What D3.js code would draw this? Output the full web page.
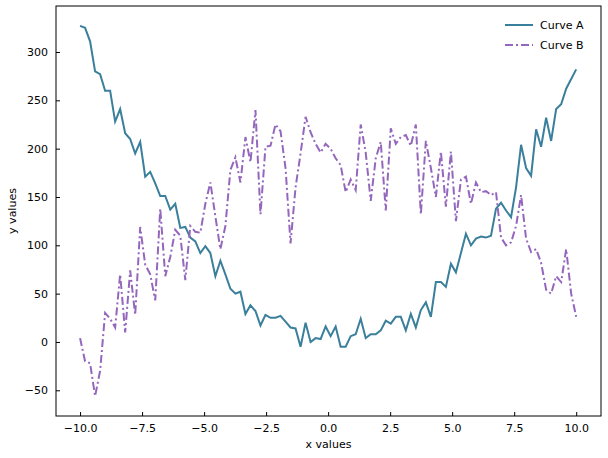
<!DOCTYPE html><html><head><meta charset="utf-8"><script src="https://cdn.jsdelivr.net/npm/d3@7"></script>
<style>body{margin:0;background:#fff}text{font-family:"DejaVu Sans",sans-serif}</style></head><body><svg id="c" width="608" height="458"></svg><script>
const curveA=[327,325,311,280,277,260,260,228,241,216,210,195,207,171,176,164,151,151,137,143,118,119,108,104,92,99,92,68,84,70,55,50,52,29,38,32,17,28,25,25,27,21,15,14,-5,20,0,4,3,16,6,16,-5,-5,6,8,24,4,8,8,12,22,19,26,26,12,29,15,33,41,26,62,62,57,81,72,92,112,100,107,109,108,110,138,144,136,129,160,204,180,172,220,202,232,208,241,246,262,272,282];
const curveB=[4,-20,-22,-56,-30,30,24,15,70,10,74,28,119,80,70,43,138,68,88,116,110,64,120,114,113,143,165,130,96,120,178,191,165,212,186,240,132,202,203,225,218,180,102,160,195,233,217,205,196,205,200,190,183,155,168,157,225,196,146,190,207,136,221,205,212,214,203,225,132,208,180,150,197,140,197,125,168,171,143,165,155,156,152,155,108,100,103,120,152,107,93,96,82,54,50,68,62,96,50,26];
const xTicks=[-10,-7.5,-5,-2.5,0,2.5,5,7.5,10];
const yTicks=[-50,0,50,100,150,200,250,300];
const names=["Curve A","Curve B"];
const colors=["#3a7f9b","#9467bd"];
const svg=d3.select("#c");
const L=56,R=601,T=6,B=416;
const x=d3.scaleLinear().domain([-10.97,11.0]).range([L,R]);
const y=d3.scaleLinear().domain([-76.6,347.6]).range([B,T]);
const n=curveA.length;
const xs=d3.range(n).map(i=>-10+20*i/(n-1));
const line=d3.line().x((d,i)=>x(xs[i])).y(d=>y(d));
svg.append("path").datum(curveA).attr("d",line).attr("fill","none").attr("stroke",colors[0]).attr("stroke-width",2);
svg.append("path").datum(curveB).attr("d",line).attr("fill","none").attr("stroke",colors[1]).attr("stroke-width",2).attr("stroke-dasharray","8,3,2,3");
svg.append("rect").attr("x",L).attr("y",T).attr("width",R-L).attr("height",B-T).attr("fill","none").attr("stroke","#000").attr("stroke-width",1);
const xa=svg.append("g").attr("transform",`translate(0,${B})`).call(d3.axisBottom(x).tickValues(xTicks).tickFormat(d3.format(".1f")).tickSizeInner(-4).tickSizeOuter(0).tickPadding(8));
const ya=svg.append("g").attr("transform",`translate(${L},0)`).call(d3.axisLeft(y).tickValues(yTicks).tickSizeInner(-4).tickSizeOuter(0).tickPadding(8));
[xa,ya].forEach(a=>{a.select(".domain").remove();a.selectAll("text").attr("font-size",11).attr("fill","#000").style("font-family","DejaVu Sans");});
svg.append("text").attr("x",(L+R)/2).attr("y",448).attr("text-anchor","middle").attr("font-size",11).text("x values");
svg.append("text").attr("transform",`translate(16,${(T+B)/2}) rotate(-90)`).attr("text-anchor","middle").attr("font-size",11).text("y values");
names.forEach((nm,i)=>{const yy=25+i*20;
 svg.append("line").attr("x1",505).attr("x2",533).attr("y1",yy).attr("y2",yy).attr("stroke",colors[i]).attr("stroke-width",2).attr("stroke-dasharray",i?"8,3,2,3":null);
 svg.append("text").attr("x",540).attr("y",yy+4).attr("font-size",11).text(nm);});
</script></body></html>
